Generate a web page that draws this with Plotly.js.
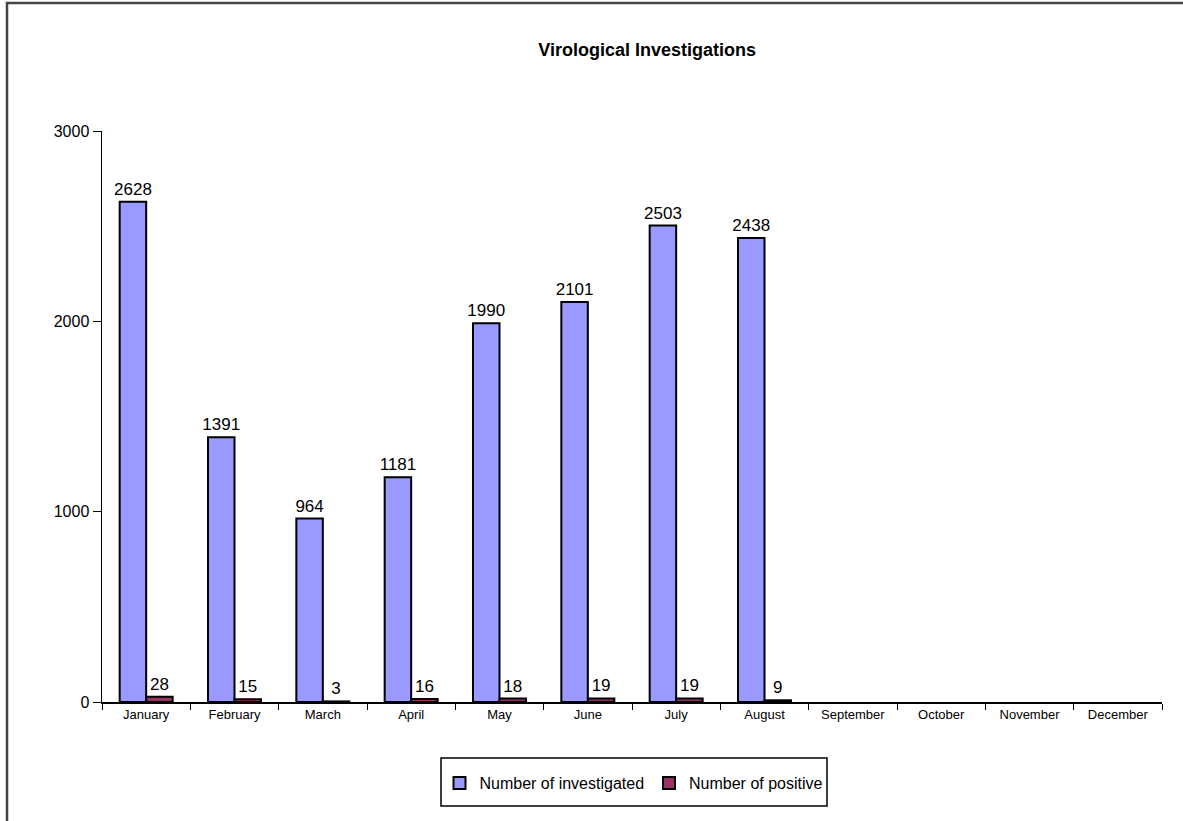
<!DOCTYPE html>
<html><head><meta charset="utf-8">
<script src="https://cdn.plot.ly/plotly-3.0.1.min.js"></script>
<style>body{margin:0;background:#fff}#c{width:1183px;height:821px}</style>
</head><body><div id="c"></div>
<script>
const months = ["January","February","March","April","May","June","July","August","September","October","November","December"];
const investigated = [2628,1391,964,1181,1990,2101,2503,2438,null,null,null,null];
const positive = [28,15,3,16,18,19,19,9,null,null,null,null];

const labelFont = {family:"Liberation Sans, Arial, sans-serif", size:17, color:"#000"};
const traces = [
  {type:"bar", name:"Number of investigated", x:months, y:investigated,
   marker:{color:"#9999FF", line:{color:"#000", width:2}},
   text:investigated.map(v=>v==null?"":String(v)), textposition:"outside", constraintext:"none",
   textfont:labelFont, cliponaxis:false},
  {type:"bar", name:"Number of positive", x:months, y:positive,
   marker:{color:"#993366", line:{color:"#000", width:2}},
   text:positive.map(v=>v==null?"":String(v)), textposition:"outside", constraintext:"none",
   textfont:labelFont, cliponaxis:false}
];
const L=102, R=1162, T=131, B=702;
const px = x => (x-L)/(R-L), py = y => (B-y)/(B-T);
const layout = {
  width:1183, height:821,
  margin:{l:L, r:1183-R, t:T, b:821-B, pad:0},
  paper_bgcolor:"#fff", plot_bgcolor:"#fff",
  font:{family:"Liberation Sans, Arial, sans-serif", color:"#000"},
  title:{text:"<b>Virological Investigations</b>", x:0.547, xanchor:"center", y:0.94, yanchor:"middle",
         font:{size:18, family:"Liberation Sans, Arial, sans-serif"}},
  barmode:"group", bargap:0.4, bargroupgap:0,
  showlegend:true,
  legend:{orientation:"h", x:px(634), xanchor:"center", y:py(783), yanchor:"middle",
          borderwidth:0, bgcolor:"rgba(0,0,0,0)", font:{size:16}, traceorder:"normal",
          itemwidth:30, tracegroupgap:0},
  xaxis:{type:"category", showline:true, linecolor:"#000", linewidth:1.5,
         ticks:"outside", tickson:"boundaries", ticklen:6, tickcolor:"#000",
         tickfont:{size:13}, showgrid:false, zeroline:false, fixedrange:true},
  yaxis:{range:[0,3000], dtick:1000, showline:true, linecolor:"#000", linewidth:1.5,
         ticks:"outside", ticklen:8, tickcolor:"#000", tickfont:{size:16},
         showgrid:false, zeroline:false, fixedrange:true},
  shapes:[
    {type:"rect", xref:"paper", yref:"paper", x0:px(7), x1:px(1190), y0:py(830), y1:py(3),
     line:{color:"#444", width:2.5}, fillcolor:"rgba(0,0,0,0)", layer:"below"},
    {type:"rect", xref:"paper", yref:"paper", x0:px(441), x1:px(827), y0:py(806), y1:py(758),
     line:{color:"#000", width:1.5}, fillcolor:"rgba(0,0,0,0)", layer:"below"}
  ]
};
Plotly.newPlot("c", traces, layout, {displayModeBar:false, staticPlot:true});
</script></body></html>
